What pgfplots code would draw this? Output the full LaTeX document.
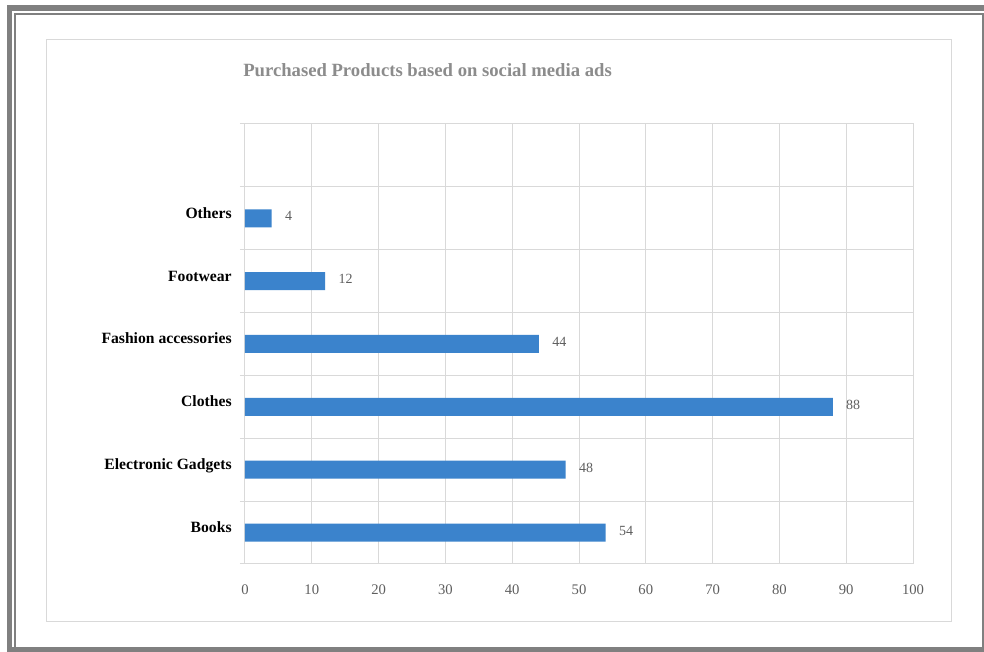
\documentclass[border=0pt]{standalone}
\usepackage{pgfplots}
\pgfplotsset{compat=1.18}
\usepackage{fontspec}
\setmainfont{Liberation Serif}
\definecolor{barblue}{RGB}{59,131,204}
\definecolor{gridgray}{RGB}{217,217,217}
\definecolor{framegray}{RGB}{128,128,128}
\definecolor{titlegray}{RGB}{140,140,140}
\definecolor{tickgray}{RGB}{95,95,95}
\begin{document}
\begin{tikzpicture}
\begin{scope}[shift={(-183.75pt,423pt)},x=0.75pt,y=-0.75pt]
\fill[white] (0,0) rectangle (984,652);
\fill[framegray] (7,5) rectangle (984,652);
\fill[white] (12,11) rectangle (984,647);
\draw[framegray,line width=1.5pt,fill=white] (15,14) rectangle (982.5,648);
\draw[gridgray,line width=0.75pt] (47,40) rectangle (951,622);
\node[anchor=west,inner sep=0pt,text=titlegray,font=\bfseries\fontsize{14}{16}\selectfont] at (243,70) {Purchased Products based on social media ads};
\end{scope}
\begin{axis}[
  scale only axis, width=501pt, height=330pt,
  xbar, bar width=13.5pt,
  xmin=0, xmax=100, ymin=-0.5, ymax=6.5,
  xtick={0,10,...,100},
  ytick={0,...,5},
  yticklabels={Books,Electronic Gadgets,Clothes,Fashion accessories,Footwear,Others},
  minor ytick={-0.5,0.5,...,6.5},
  xmajorgrids, yminorgrids,
  grid style={gridgray,line width=0.75pt},
  minor grid style={gridgray,line width=0.75pt},
  axis line style={gridgray,line width=0.75pt},
  major tick length=0pt,
  minor tick length=3.75pt,
  tick align=outside,
  ytick pos=left, xtick pos=bottom,
  minor tick style={gridgray,line width=0.75pt},
  major tick style={draw=none},
  yticklabel style={anchor=base east,font=\bfseries\fontsize{11.75}{14}\selectfont,text=black,xshift=-6.5pt},
  xticklabel style={font=\fontsize{11}{13}\selectfont,text=tickgray,yshift=-12.4pt},
  /pgf/number format/assume math mode=true,
  nodes near coords,
  nodes near coords style={font=\fontsize{10.5}{12}\selectfont,text=tickgray,anchor=west,xshift=6.5pt,yshift=1.5pt},
]
\addplot[fill=barblue,draw=none] coordinates {(54,0) (48,1) (88,2) (44,3) (12,4) (4,5)};
\end{axis}
\end{tikzpicture}
\end{document}
